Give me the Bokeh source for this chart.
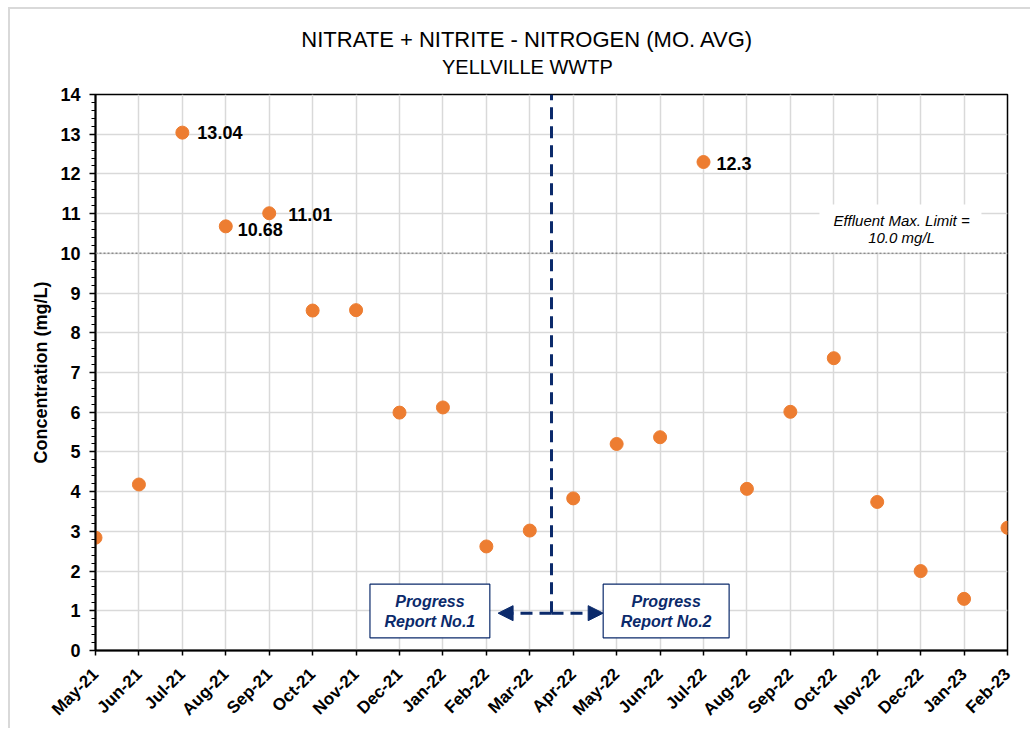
import numpy as np
from bokeh.plotting import figure
from bokeh.layouts import column
from bokeh.models import (Range1d, FixedTicker, Span, BoxAnnotation, Label, Arrow,
                          NormalHead, ColumnDataSource)
from bokeh.core.properties import value
from bokeh.embed import file_html
from bokeh.resources import INLINE

# ---------------- data ----------------
months = ["May-21", "Jun-21", "Jul-21", "Aug-21", "Sep-21", "Oct-21", "Nov-21", "Dec-21",
          "Jan-22", "Feb-22", "Mar-22", "Apr-22", "May-22", "Jun-22", "Jul-22", "Aug-22",
          "Sep-22", "Oct-22", "Nov-22", "Dec-22", "Jan-23", "Feb-23"]
concentration = [2.84, 4.18, 13.04, 10.68, 11.01, 8.56, 8.57, 5.99, 6.12, 2.62, 3.02,
                 3.83, 5.20, 5.37, 12.3, 4.07, 6.01, 7.36, 3.74, 2.00, 1.30, 3.09]
effluent_limit = 10.0
y_ticks = list(range(0, 15))

title_main = "NITRATE + NITRITE - NITROGEN (MO. AVG)"
title_sub = "YELLVILLE WWTP"
y_label = "Concentration (mg/L)"
limit_text = ["Effluent Max. Limit =", "10.0 mg/L"]
report1_text = ["Progress", "Report No.1"]
report2_text = ["Progress", "Report No.2"]

# ---------------- style / layout ----------------
FONT = "Liberation Sans"
NAVY = "#0b2a6b"
ORANGE = "#ed7d31"
GRID = "#d9d9d9"
W = 1020
TITLE_H = 70
PLOT_H = 649

# label offsets (pixels) for labelled points
label_offsets = {"Jul-21": (15, 0), "Aug-21": (12, 3), "Sep-21": (19, 1), "Jul-22": (13, 1)}

# annotation placement
TITLE_POS = (483, 40.0, 12.5)       # title strip pixels: x centre, main y, sub y
REPORT_SPLIT_X = 10.5
ARROW_Y = 0.94
ARROW_X0, ARROW_X1 = 9.27, 11.69
BOX1 = (6.32, 9.08, 0.32, 1.67)
BOX2 = (11.69, 14.59, 0.32, 1.67)
EFF_BOX = (16.67, 20.40, 10.03, 11.23)
EFF_TEXT_X = 18.56
EFF_TEXT_Y = (10.83, 10.39)
REPORT_TEXT_Y = (1.228, 0.742)

x_idx = list(range(len(months)))

# ---------------- title strip ----------------
tfig = figure(width=W, height=TITLE_H, output_backend="svg", toolbar_location=None,
              x_range=Range1d(0, W), y_range=Range1d(0, TITLE_H),
              x_axis_type=None, y_axis_type=None,
              min_border=0, min_border_left=0, min_border_right=0,
              min_border_top=0, min_border_bottom=0,
              background_fill_color="white", border_fill_color="white")
tfig.outline_line_color = None
tfig.grid.visible = False
tfig.text(x=[TITLE_POS[0]], y=[TITLE_POS[1]], text=[title_main], text_align="center",
          text_baseline="middle", text_font=value(FONT), text_font_size="22px",
          text_color="black")
tfig.text(x=[TITLE_POS[0]], y=[TITLE_POS[2]], text=[title_sub], text_align="center",
          text_baseline="middle", text_font=value(FONT), text_font_size="20px",
          text_color="black")

# ---------------- main plot ----------------
p = figure(width=W, height=PLOT_H, output_backend="svg", toolbar_location=None,
           x_range=Range1d(0, len(months) - 1), y_range=Range1d(0, 14),
           min_border_left=85, min_border_right=23, min_border_top=15, min_border_bottom=78,
           background_fill_color="white", border_fill_color="white")

p.outline_line_color = "black"
p.outline_line_width = 1.5

# axes
xax = p.xaxis[0]
xax.ticker = FixedTicker(ticks=x_idx)
xax.major_label_overrides = {i: m for i, m in enumerate(months)}
xax.major_label_orientation = np.pi / 4
xax.major_label_text_font = FONT
xax.major_label_text_font_style = "bold"
xax.major_label_text_font_size = "17px"
xax.major_label_text_color = "black"
xax.major_tick_out = 5
xax.major_tick_in = 0
xax.minor_tick_line_color = None
xax.axis_line_width = 2
xax.axis_line_color = "black"
xax.major_tick_line_width = 1.5
xax.major_label_standoff = 16

yax = p.yaxis[0]
yax.ticker = FixedTicker(ticks=y_ticks, minor_ticks=list(np.round(np.arange(0, 14.01, 0.2), 2)))
yax.major_label_text_font = FONT
yax.major_label_text_font_style = "bold"
yax.major_label_text_font_size = "18px"
yax.major_label_text_color = "black"
yax.major_tick_out = 6
yax.major_tick_in = 0
yax.minor_tick_out = 4
yax.minor_tick_in = 0
yax.minor_tick_line_width = 1.2
yax.major_tick_line_width = 1.5
yax.axis_line_width = 2
yax.axis_line_color = "black"
yax.major_label_standoff = 9
yax.axis_label = y_label
yax.axis_label_text_font = FONT
yax.axis_label_text_font_style = "bold"
yax.axis_label_text_font_size = "18px"
yax.axis_label_text_color = "black"
yax.axis_label_standoff = 6

# grids
p.xgrid.ticker = FixedTicker(ticks=x_idx)
p.ygrid.ticker = FixedTicker(ticks=y_ticks)
for g in (p.xgrid[0], p.ygrid[0]):
    g.grid_line_color = GRID
    g.grid_line_width = 1.5

# effluent limit line + label
p.add_layout(Span(location=effluent_limit, dimension="width", line_color="#8c8c8c",
                  line_dash="2 2", line_width=1.5))
p.add_layout(BoxAnnotation(left=EFF_BOX[0], right=EFF_BOX[1], bottom=EFF_BOX[2], top=EFF_BOX[3],
                           fill_color="white", fill_alpha=1, line_alpha=0))
for t, yy in zip(limit_text, EFF_TEXT_Y):
    p.add_layout(Label(x=EFF_TEXT_X, y=yy, text=t, text_align="center", text_baseline="middle",
                       text_font=FONT, text_font_style="italic", text_font_size="15px",
                       text_color="black"))

# progress report split
p.segment(x0=[REPORT_SPLIT_X], y0=[ARROW_Y], x1=[REPORT_SPLIT_X], y1=[14],
          line_color=NAVY, line_width=3, line_dash="12 7")
p.add_layout(Arrow(x_start=REPORT_SPLIT_X, y_start=ARROW_Y, x_end=ARROW_X0, y_end=ARROW_Y,
                   line_color=NAVY, line_width=3, line_dash="12 7",
                   end=NormalHead(size=15, fill_color=NAVY, line_color=NAVY, line_width=1)))
p.add_layout(Arrow(x_start=REPORT_SPLIT_X, y_start=ARROW_Y, x_end=ARROW_X1, y_end=ARROW_Y,
                   line_color=NAVY, line_width=3, line_dash="12 7",
                   end=NormalHead(size=15, fill_color=NAVY, line_color=NAVY, line_width=1)))

for box, texts in ((BOX1, report1_text), (BOX2, report2_text)):
    p.add_layout(BoxAnnotation(left=box[0], right=box[1], bottom=box[2], top=box[3],
                               fill_color="white", fill_alpha=1, line_color=NAVY,
                               line_width=1.2, line_alpha=1))
    cx = (box[0] + box[1]) / 2
    for t, yy in zip(texts, REPORT_TEXT_Y):
        p.add_layout(Label(x=cx, y=yy, text=t, text_align="center", text_baseline="middle",
                           text_font=FONT, text_font_style="bold italic", text_font_size="16px",
                           text_color=NAVY))

# data points
src = ColumnDataSource(dict(x=x_idx, y=concentration))
p.scatter("x", "y", source=src, size=13, fill_color=ORANGE, line_color=ORANGE)

# labels for points above the limit
lab = dict(x=[], y=[], text=[], dx=[], dy=[])
for i, (m, v) in enumerate(zip(months, concentration)):
    if v > effluent_limit:
        dx, dy = label_offsets.get(m, (14, 0))
        lab["x"].append(i)
        lab["y"].append(v)
        lab["text"].append(f"{v:g}")
        lab["dx"].append(dx)
        lab["dy"].append(dy)
p.text("x", "y", text="text", x_offset="dx", y_offset="dy", source=ColumnDataSource(lab),
       text_font=value(FONT), text_font_style="bold", text_font_size="18px",
       text_baseline="middle", text_align="left", text_color="black")

layout = column(tfig, p, spacing=0,
                styles={"margin-left": "8px", "margin-top": "7px",
                        "border-left": "2px solid #d9d9d9", "border-top": "2px solid #d9d9d9"})

open("out.html", "w").write(file_html(layout, INLINE))
